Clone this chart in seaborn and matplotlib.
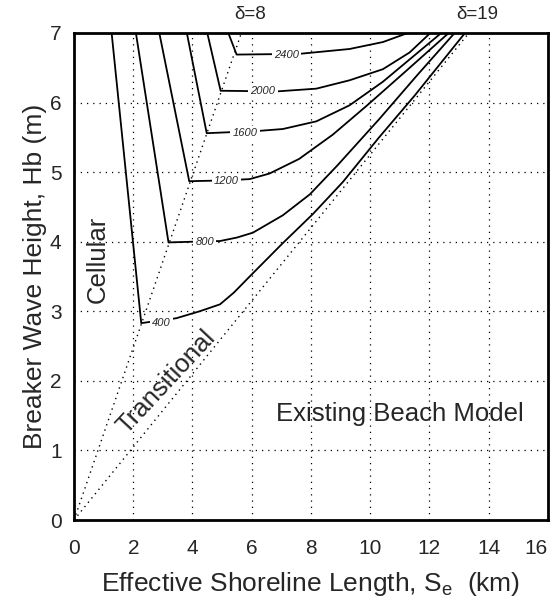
import numpy as np
import matplotlib
matplotlib.use("Agg")
import matplotlib.pyplot as plt
import seaborn as sns

sns.set_style("white")
plt.rcParams['font.family'] = ['Liberation Sans', 'DejaVu Sans']
plt.rcParams['mathtext.fontset'] = 'custom'
plt.rcParams['mathtext.rm'] = 'Liberation Sans'
plt.rcParams['mathtext.it'] = 'Liberation Sans'

levels = [400, 800, 1200, 1600, 2000, 2400]
top_left_x = [1.27, 2.09, 2.88, 3.81, 4.50, 5.21]
label_x = [2.96, 4.41, 5.15, 5.77, 6.38, 7.17]

curve_x = [
    [2.27, 3.45, 4.24, 4.93, 5.4, 5.93, 7.05, 8.07, 9.08, 10.3, 11.5, 13.2],
    [3.19, 4.0, 4.93, 5.5, 6.04, 7.05, 7.96, 8.9, 10.3, 11.6, 12.85],
    [3.89, 5.0, 5.93, 6.6, 7.6, 8.74, 9.87, 11.2, 12.65],
    [4.48, 6.15, 7.05, 8.18, 9.3, 10.43, 11.33, 12.4],
    [4.95, 6.83, 8.18, 9.3, 10.43, 11.33, 12.03],
    [5.49, 7.6, 9.3, 10.43, 11.27],
]
curve_y = [
    [2.83, 2.9, 3.0, 3.1, 3.27, 3.5, 3.98, 4.4, 4.86, 5.5, 6.1, 7.0],
    [3.99, 4.0, 4.01, 4.06, 4.13, 4.38, 4.68, 5.1, 5.76, 6.4, 7.0],
    [4.87, 4.88, 4.90, 4.98, 5.19, 5.54, 5.95, 6.45, 7.0],
    [5.56, 5.59, 5.62, 5.73, 5.96, 6.3, 6.62, 7.0],
    [6.17, 6.16, 6.2, 6.32, 6.48, 6.72, 7.0],
    [6.69, 6.70, 6.77, 6.87, 7.0],
]

# regime boundaries (dotted rays from the origin)
delta_labels = ['\u03b4=8', '\u03b4=19']
delta_top_x = [5.65, 13.33]
delta_label_x = [5.95, 13.6]

xticks = list(range(0, 17, 2))
yticks = list(range(0, 8))

fig = plt.figure(figsize=(5.54, 6.0), dpi=100)
ax = fig.add_axes([0.1336, 0.1333, 0.8554, 0.8117])

for xt in xticks[1:-1]:
    ax.axvline(xt, color='k', lw=0.9, ls=(0, (1, 4)), zorder=1)
for yt in yticks[1:-1]:
    ax.axhline(yt, color='k', lw=0.9, ls=(0, (1, 4)), zorder=1)

for tx, lab, lx in zip(delta_top_x, delta_labels, delta_label_x):
    sns.lineplot(x=[0, tx], y=[0, 7], color='k', lw=1.0, ls=(0, (1, 3)),
                 sort=False, estimator=None, ax=ax, zorder=2)
    ax.text(lx, 7.27, lab, ha='center', va='center', fontsize=13.5, clip_on=False)

for lev, tlx, lbx, cx, cy in zip(levels, top_left_x, label_x, curve_x, curve_y):
    xs = [tlx] + cx
    ys = [7.0] + cy
    sns.lineplot(x=xs, y=ys, color='k', lw=1.3, sort=False, estimator=None,
                 ax=ax, zorder=3)
    ax.text(lbx, cy[0], str(lev), ha='center', va='center', fontsize=8,
            fontstyle='italic', zorder=4,
            bbox=dict(boxstyle='square,pad=0.2', fc='white', ec='none'))

ax.text(0.8, 3.75, 'Cellular', rotation=90, ha='center', va='center', fontsize=18.5)
ax.text(3.1, 1.98, 'Transitional', rotation=47, ha='center', va='center', fontsize=18.5)
ax.text(11.0, 1.52, 'Existing Beach Model', ha='center', va='center', fontsize=18.5)

ax.set_xlim(0, 16)
ax.set_ylim(0, 7)
ax.set_xticks(xticks)
ax.set_yticks(yticks)
ax.tick_params(axis='x', length=0, labelsize=15, pad=14)
ax.tick_params(axis='y', length=0, labelsize=15, pad=9)
# last x tick label sits at the figure edge; keep it inside
ax.get_xticklabels()[-1].set_horizontalalignment('right')
for sp in ax.spines.values():
    sp.set_visible(True)
    sp.set_color('k')
    sp.set_linewidth(2.0)

ax.set_xlabel('Effective Shoreline Length, S$_\\mathregular{e}$  (km)', fontsize=19, labelpad=8)
ax.set_ylabel('Breaker Wave Height, Hb (m)', fontsize=19, labelpad=2)

fig.savefig('out.png', dpi=100)
